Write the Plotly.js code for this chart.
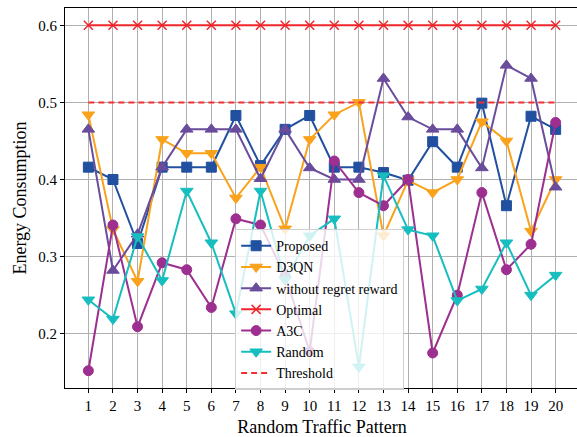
<!DOCTYPE html>
<html>
<head>
<meta charset="utf-8">
<script src="https://cdn.plot.ly/plotly-3.0.1.min.js"></script>
<style>
html,body{margin:0;padding:0;overflow:hidden;background:#fff;}
#chart{width:580px;height:437px;}
</style>
</head>
<body>
<div id="chart"></div>
<script>
const patterns = [1,2,3,4,5,6,7,8,9,10,11,12,13,14,15,16,17,18,19,20];
const proposed = [0.416,0.400,0.317,0.416,0.416,0.416,0.483,0.418,0.465,0.483,0.416,0.416,0.409,0.399,0.449,0.416,0.499,0.366,0.482,0.465];
const d3qn     = [0.484,0.335,0.268,0.452,0.434,0.434,0.376,0.416,0.336,0.452,0.484,0.500,0.327,0.399,0.383,0.400,0.475,0.450,0.333,0.400];
const noRegret = [0.465,0.282,0.329,0.416,0.465,0.465,0.465,0.401,0.465,0.415,0.400,0.400,0.531,0.481,0.465,0.465,0.415,0.548,0.531,0.390];
const optimal  = [0.6,0.6,0.6,0.6,0.6,0.6,0.6,0.6,0.6,0.6,0.6,0.6,0.6,0.6,0.6,0.6,0.6,0.6,0.6,0.6];
const a3c      = [0.152,0.341,0.209,0.292,0.283,0.234,0.349,0.341,0.275,0.177,0.424,0.383,0.366,0.400,0.175,0.250,0.383,0.283,0.316,0.474];
const randomP  = [0.244,0.219,0.326,0.269,0.385,0.318,0.226,0.385,0.270,0.327,0.349,0.157,0.405,0.335,0.327,0.243,0.258,0.318,0.250,0.276];
const threshold = [0.5,0.5,0.5,0.5,0.5,0.5,0.5,0.5,0.5,0.5,0.5,0.5,0.5,0.5,0.5,0.5,0.5,0.5,0.5,0.5];
const yTicks = [0.2,0.3,0.4,0.5,0.6];

const FONT = "Liberation Serif";

function series(name, y, color, symbol, size, extra) {
  return Object.assign({
    type: 'scatter', mode: 'lines+markers', name: name,
    x: patterns, y: y,
    line: {color: color, width: 2},
    marker: {color: color, symbol: symbol, size: size, line: {color: color, width: 1}}
  }, extra || {});
}

const data = [
  series('Proposed', proposed, '#2150A0', 'square', 10),
  series('D3QN', d3qn, '#FAA21B', 'triangle-down', 11),
  series('without regret reward', noRegret, '#6A4C9C', 'triangle-up', 11),
  {type:'scatter', mode:'lines+markers', name:'Optimal', x: patterns, y: optimal,
   line:{color:'#F0262B', width:2},
   marker:{color:'#F0262B', symbol:'x-thin', size:9, line:{color:'#F0262B', width:1.5}}},
  series('A3C', a3c, '#9C2F90', 'circle', 10),
  series('Random', randomP, '#17BEBF', 'triangle-down', 11),
  {type:'scatter', mode:'lines', name:'Threshold', x: patterns, y: threshold,
   line:{color:'#F03030', width:2, dash:'6px,4px'}}
];

const layout = {
  width: 580, height: 437,
  margin: {l: 65, r: 1, t: 8, b: 49},
  paper_bgcolor: '#fff', plot_bgcolor: '#fff',
  font: {family: FONT, size: 15, color: '#000'},
  showlegend: true,
  legend: {
    x: 0.331, y: 0.418, xanchor: 'left', yanchor: 'top',
    bgcolor: 'rgba(255,255,255,0.8)', bordercolor: '#d0d0d0', borderwidth: 1,
    font: {family: FONT, size: 14, color: '#000'},
    tracegroupgap: 0
  },
  xaxis: {
    range: [0.05, 20.95],
    tickmode: 'array', tickvals: patterns, ticktext: patterns.map(String),
    showgrid: true, gridcolor: '#b0b0b0', gridwidth: 1,
    showline: true, linecolor: '#000', linewidth: 1, mirror: true,
    ticks: 'outside', ticklen: 4, tickcolor: '#000',
    zeroline: false,
    tickfont: {family: FONT, size: 15},
    title: {text: 'Random Traffic Pattern', font: {family: FONT, size: 18}, standoff: 7}
  },
  yaxis: {
    range: [0.1296, 0.6224],
    tickmode: 'array', tickvals: yTicks, ticktext: yTicks.map(v => v.toFixed(1)),
    showgrid: true, gridcolor: '#b0b0b0', gridwidth: 1,
    showline: true, linecolor: '#000', linewidth: 1, mirror: true,
    ticks: 'outside', ticklen: 4, tickcolor: '#000',
    zeroline: false,
    tickfont: {family: FONT, size: 15},
    title: {text: 'Energy Consumption', font: {family: FONT, size: 18}, standoff: 6}
  }
};

Plotly.newPlot('chart', data, layout, {displayModeBar: false, staticPlot: true});
</script>
</body>
</html>
